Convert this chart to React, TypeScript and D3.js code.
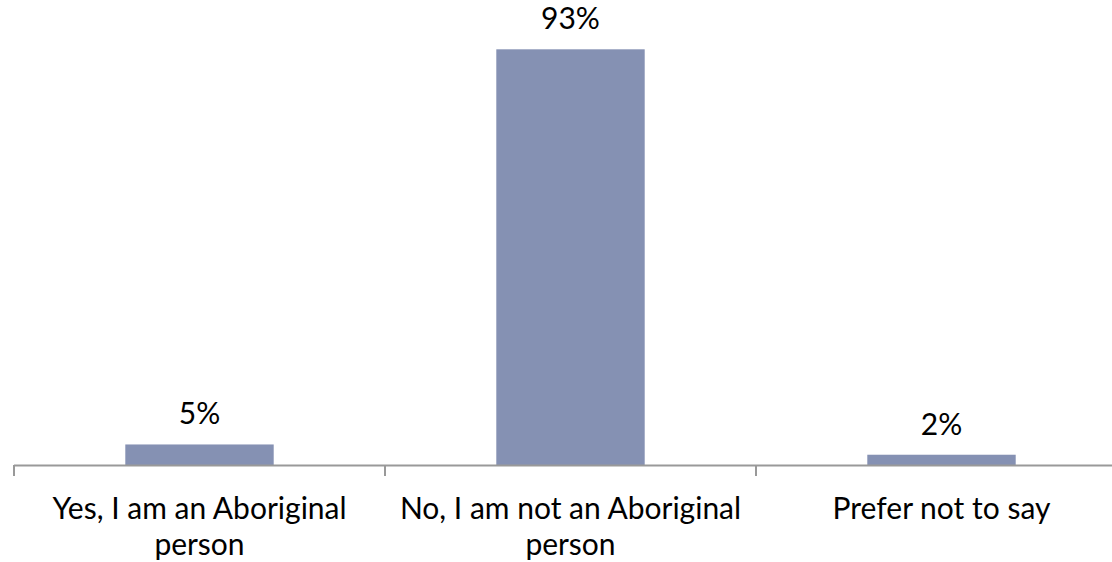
import React from "react";
import * as d3 from "d3";

const categories: string[][] = [
  ["Yes, I am an Aboriginal", "person"],
  ["No, I am not an Aboriginal", "person"],
  ["Prefer not to say"],
];
const values: number[] = [4.6, 93.1, 2.3];
const yMax = 100;

const W = 1112;
const H = 562;
const FONT = "Lato, 'Open Sans', sans-serif";
const FS = 30;

export default function App() {
  const keys = categories.map((c) => c.join(" "));
  const x = d3.scaleBand<string>().domain(keys).range([14, 1127]).paddingInner(0).paddingOuter(0);
  const y = d3.scaleLinear().domain([0, yMax]).range([465, 18.5]);
  const bw = x.bandwidth();
  const barW = bw * 0.4;
  const base = y(0);
  const ticks = [...keys.map((k) => x(k)!), x(keys[keys.length - 1])! + bw];

  return (
    <svg width={W} height={H} style={{ position: "absolute", left: 0, top: 0 }}>
      <rect width={W} height={H} fill="#fff" />
      {keys.map((k, i) => {
        const v = values[i];
        const cx = x(k)! + bw / 2;
        return (
          <g key={k}>
            <rect x={cx - barW / 2} y={y(v)} width={barW} height={base - y(v)} fill="#8591b3" />
            <text x={cx} y={y(v) - 20} textAnchor="middle" fontFamily={FONT} fontSize={FS} fill="#000">
              {Math.round(v) + "%"}
            </text>
            {categories[i].map((line, j) => (
              <text key={j} x={cx} y={519 + j * 36} textAnchor="middle" fontFamily={FONT} fontSize={FS} fill="#000">
                {line}
              </text>
            ))}
          </g>
        );
      })}
      <line x1={14} x2={W + 20} y1={base + 0.5} y2={base + 0.5} stroke="#999" strokeWidth={2} />
      {ticks.map((t, i) => (
        <line key={i} x1={t} x2={t} y1={base} y2={base + 11} stroke="#999" strokeWidth={2} />
      ))}
    </svg>
  );
}
